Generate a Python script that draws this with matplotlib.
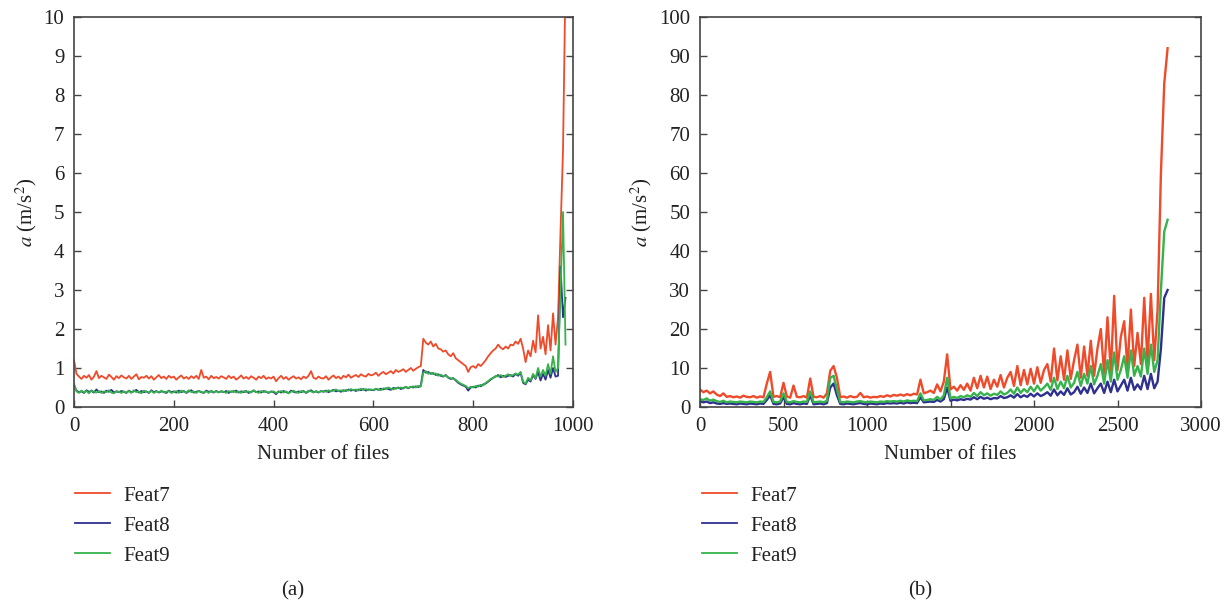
import numpy as np
import matplotlib
matplotlib.use("Agg")
import matplotlib.pyplot as plt

plt.rcParams["font.family"] = ["Liberation Serif", "DejaVu Serif"]
plt.rcParams["mathtext.fontset"] = "stix"
plt.rcParams["font.size"] = 15

# panel (a): one value every 5 files
files_a = np.arange(0, 986, 5)
feat7_a = [
    1.2, 0.85, 0.78, 0.72, 0.8, 0.75, 0.82, 0.7, 0.78, 0.92, 0.74, 0.8, 0.76, 0.72, 0.83, 0.77, 0.7, 0.79, 0.74, 0.81,
    0.76, 0.73, 0.8, 0.72, 0.78, 0.84, 0.71, 0.77, 0.75, 0.8, 0.73, 0.79, 0.7, 0.76, 0.82, 0.74, 0.78, 0.72, 0.8, 0.75,
    0.78, 0.7, 0.76, 0.81, 0.73, 0.77, 0.72, 0.79, 0.74, 0.8, 0.72, 0.95, 0.75, 0.78, 0.71, 0.8, 0.74, 0.77, 0.73, 0.79,
    0.76, 0.72, 0.8, 0.74, 0.78, 0.7, 0.75, 0.81, 0.73, 0.77, 0.72, 0.79, 0.75, 0.7, 0.78, 0.74, 0.8, 0.72, 0.76, 0.73,
    0.78, 0.66, 0.74, 0.8, 0.72, 0.77, 0.7, 0.75, 0.79, 0.73, 0.76, 0.71, 0.78, 0.74, 0.8, 0.92, 0.75, 0.72, 0.78, 0.74,
    0.73, 0.79, 0.7, 0.76, 0.81, 0.74, 0.78, 0.72, 0.8, 0.76, 0.83, 0.75, 0.79, 0.82, 0.77, 0.84, 0.8, 0.78, 0.85, 0.81,
    0.83, 0.88, 0.8, 0.86, 0.9, 0.84, 0.88, 0.92, 0.86, 0.95, 0.9, 0.93, 0.97, 0.9, 0.95, 1.0, 0.93, 0.98, 1.02, 1.05,
    1.75, 1.65, 1.6, 1.68, 1.55, 1.62, 1.5, 1.48, 1.42, 1.45, 1.35, 1.3, 1.38, 1.25, 1.2, 1.15, 1.1, 1.05, 0.9, 1.02,
    1.05, 1.0, 1.1, 1.05, 1.12, 1.2, 1.3, 1.38, 1.45, 1.5, 1.6, 1.52, 1.48, 1.55, 1.5, 1.6, 1.58, 1.68, 1.62, 1.75,
    1.5, 1.15, 1.45, 1.3, 1.7, 1.4, 2.35, 1.5, 1.8, 1.35, 2.1, 1.45, 2.4, 1.6, 2.3, 4.5, 6.6, 11.0,
]
feat8_a = [
    0.55, 0.42, 0.38, 0.4, 0.36, 0.43, 0.39, 0.41, 0.37, 0.45, 0.38, 0.4, 0.36, 0.42, 0.39, 0.44, 0.37, 0.4, 0.38, 0.41,
    0.39, 0.36, 0.42, 0.38, 0.4, 0.44, 0.37, 0.41, 0.38, 0.4, 0.36, 0.43, 0.38, 0.41, 0.37, 0.4, 0.39, 0.36, 0.42, 0.38,
    0.4, 0.37, 0.42, 0.38, 0.41, 0.36, 0.4, 0.43, 0.37, 0.39, 0.41, 0.38, 0.36, 0.42, 0.39, 0.4, 0.37, 0.41, 0.38, 0.4,
    0.38, 0.41, 0.36, 0.4, 0.39, 0.42, 0.37, 0.4, 0.38, 0.41, 0.36, 0.39, 0.42, 0.38, 0.4, 0.37, 0.41, 0.39, 0.36, 0.4,
    0.38, 0.33, 0.4, 0.37, 0.41, 0.38, 0.36, 0.42, 0.39, 0.37, 0.4, 0.38, 0.41, 0.36, 0.4, 0.43, 0.38, 0.4, 0.37, 0.41,
    0.39, 0.42, 0.38, 0.41, 0.44, 0.4, 0.42, 0.39, 0.43, 0.41, 0.45, 0.42, 0.44, 0.41, 0.45, 0.43, 0.46, 0.42, 0.45, 0.44,
    0.43, 0.46, 0.44, 0.47, 0.45, 0.48, 0.46, 0.44, 0.49, 0.47, 0.5, 0.46, 0.49, 0.51, 0.48, 0.52, 0.5, 0.53, 0.51, 0.55,
    0.95, 0.88, 0.9, 0.85, 0.87, 0.82, 0.84, 0.8, 0.78, 0.82, 0.75, 0.72, 0.74, 0.68, 0.62, 0.58, 0.55, 0.52, 0.42, 0.5,
    0.52, 0.5, 0.55, 0.53, 0.58, 0.6, 0.65, 0.7, 0.75, 0.78, 0.82, 0.76, 0.8, 0.77, 0.8, 0.82, 0.78, 0.85, 0.8, 0.88,
    0.62, 0.58, 0.7, 0.65, 0.82, 0.72, 0.9, 0.68, 0.85, 0.7, 0.95, 0.75, 1.0, 0.78, 0.8, 3.6, 2.3, 2.8,
]
feat9_a = [
    0.6, 0.4, 0.36, 0.42, 0.38, 0.41, 0.35, 0.43, 0.39, 0.37, 0.41, 0.36, 0.4, 0.38, 0.43, 0.37, 0.35, 0.41, 0.39, 0.36,
    0.4, 0.37, 0.41, 0.36, 0.43, 0.38, 0.4, 0.35, 0.42, 0.39, 0.37, 0.41, 0.36, 0.4, 0.38, 0.42, 0.37, 0.39, 0.41, 0.36,
    0.38, 0.41, 0.36, 0.42, 0.39, 0.37, 0.43, 0.38, 0.4, 0.36, 0.41, 0.39, 0.37, 0.4, 0.36, 0.42, 0.38, 0.4, 0.37, 0.41,
    0.39, 0.36, 0.41, 0.38, 0.42, 0.37, 0.4, 0.36, 0.41, 0.38, 0.4, 0.37, 0.43, 0.39, 0.36, 0.41, 0.38, 0.4, 0.37, 0.39,
    0.4, 0.36, 0.38, 0.41, 0.37, 0.4, 0.35, 0.39, 0.42, 0.38, 0.36, 0.41, 0.39, 0.37, 0.42, 0.4, 0.37, 0.41, 0.38, 0.4,
    0.41, 0.39, 0.43, 0.4, 0.42, 0.45, 0.41, 0.43, 0.4, 0.44, 0.42, 0.46, 0.43, 0.45, 0.42, 0.47, 0.44, 0.46, 0.43, 0.45,
    0.44, 0.47, 0.45, 0.43, 0.48, 0.46, 0.5, 0.47, 0.45, 0.49, 0.48, 0.5, 0.47, 0.52, 0.49, 0.51, 0.53, 0.5, 0.54, 0.52,
    0.88, 0.92, 0.85, 0.88, 0.84, 0.86, 0.8, 0.83, 0.79, 0.8, 0.76, 0.74, 0.72, 0.7, 0.64, 0.6, 0.57, 0.54, 0.48, 0.52,
    0.5, 0.54, 0.52, 0.57, 0.55, 0.62, 0.66, 0.72, 0.74, 0.8, 0.78, 0.82, 0.77, 0.8, 0.84, 0.79, 0.82, 0.86, 0.83, 0.9,
    0.65, 0.6, 0.75, 0.68, 0.85, 0.74, 1.0, 0.78, 0.95, 0.8, 1.1, 0.85, 1.3, 0.9, 1.0, 3.0, 5.0, 1.6,
]

# panel (b): one value every 20 files
files_b = np.arange(0, 2801, 20)
feat7_b = [
    4.5, 3.8, 4.2, 3.5, 4.0, 3.2, 2.8, 3.5, 2.6, 2.8, 2.5, 2.7, 2.4, 2.9, 2.6, 2.5, 2.8, 2.4, 2.7, 2.5,
    6.0, 9.0, 2.6, 2.8, 2.5, 6.2, 2.7, 2.4, 5.5, 2.6, 2.5, 2.8, 2.4, 7.3, 2.6, 2.5, 2.8, 2.4, 3.5, 9.3,
    10.5, 7.5, 2.5, 2.7, 2.4, 2.8, 2.5, 2.6, 3.6, 2.5, 2.7, 2.4, 2.6, 2.5, 2.8, 2.6, 3.0, 2.7, 3.1, 2.9,
    3.2, 2.9, 3.3, 3.0, 3.4, 3.2, 7.0, 3.5, 3.8, 4.2, 3.6, 5.8, 4.0, 6.5, 13.5, 4.5, 5.2, 4.2, 5.6, 4.4,
    6.0, 4.2, 7.5, 4.8, 8.0, 5.0, 7.8, 4.6, 7.0, 5.2, 8.2, 5.0, 7.5, 9.0, 5.4, 10.5, 5.6, 9.5, 5.8, 9.8,
    6.0, 10.2, 6.2, 9.5, 11.0, 6.5, 15.0, 6.8, 13.0, 7.0, 14.5, 7.2, 12.0, 16.0, 7.5, 15.5, 8.0, 17.0, 8.0, 15.0,
    20.0, 8.5, 23.0, 9.0, 28.5, 9.5, 18.0, 22.0, 10.0, 25.0, 10.5, 19.0, 11.0, 28.0, 11.5, 29.0, 12.0, 25.0, 60.0, 83.0,
    92.0,
]
feat8_b = [
    1.5, 1.2, 1.4, 1.0, 1.2, 0.9, 0.8, 1.0, 0.8, 0.9, 0.8, 0.7, 0.9, 0.8, 0.7, 0.9, 0.8, 0.7, 0.9, 0.8,
    1.8, 3.0, 0.8, 0.7, 0.9, 2.5, 0.8, 0.7, 1.0, 0.8, 0.7, 0.9, 0.8, 3.0, 0.7, 0.8, 0.9, 0.7, 1.0, 5.0,
    6.0, 3.0, 0.8, 0.7, 0.9, 0.8, 0.7, 0.9, 1.0, 0.8, 0.7, 0.9, 0.8, 0.7, 0.9, 0.8, 1.0, 0.9, 1.0, 0.9,
    1.1, 0.9, 1.2, 1.0, 1.1, 1.0, 2.5, 1.2, 1.3, 1.4, 1.3, 1.8, 1.4, 2.0, 5.0, 1.6, 1.9, 1.7, 2.0, 1.8,
    2.1, 1.9, 2.5, 2.0, 2.6, 2.1, 2.4, 2.0, 2.3, 2.2, 2.8, 2.3, 2.5, 3.0, 2.4, 3.3, 2.5, 3.0, 2.6, 3.4,
    2.7, 3.5, 2.8, 3.2, 3.8, 2.9, 4.5, 3.0, 4.0, 3.1, 4.8, 3.2, 3.8, 5.2, 3.4, 5.0, 3.6, 6.0, 3.5, 4.8,
    6.0, 3.6, 6.5, 3.8, 7.0, 4.0, 5.5, 7.0, 4.2, 7.5, 4.4, 5.8, 4.5, 8.0, 4.6, 8.5, 4.8, 6.5, 15.0, 28.0,
    30.0,
]
feat9_b = [
    2.0, 1.8, 2.2, 1.6, 1.9, 1.5, 1.3, 1.6, 1.2, 1.4, 1.3, 1.2, 1.4, 1.3, 1.2, 1.4, 1.3, 1.2, 1.4, 1.3,
    2.5, 4.0, 1.3, 1.2, 1.4, 3.5, 1.3, 1.2, 1.5, 1.3, 1.2, 1.4, 1.3, 4.0, 1.2, 1.3, 1.4, 1.2, 1.6, 7.5,
    8.0, 4.5, 1.3, 1.2, 1.4, 1.3, 1.2, 1.4, 1.5, 1.3, 1.2, 1.4, 1.3, 1.2, 1.4, 1.3, 1.5, 1.4, 1.5, 1.4,
    1.6, 1.4, 1.7, 1.5, 1.6, 1.5, 3.5, 1.7, 1.8, 2.0, 1.8, 2.6, 1.9, 3.0, 7.5, 2.2, 2.6, 2.3, 2.8, 2.5,
    3.0, 2.6, 3.6, 2.8, 3.8, 3.0, 3.5, 2.9, 3.4, 3.1, 4.0, 3.2, 3.6, 4.5, 3.4, 5.0, 3.6, 4.6, 3.8, 5.2,
    4.0, 5.5, 4.2, 5.0, 6.0, 4.4, 7.5, 4.6, 6.5, 4.8, 8.0, 5.0, 6.2, 9.0, 5.4, 8.5, 6.0, 10.5, 5.8, 8.0,
    11.0, 6.0, 12.0, 6.5, 14.0, 7.0, 9.5, 13.0, 7.5, 14.5, 8.0, 10.5, 7.8, 15.0, 8.5, 16.0, 9.0, 12.0, 30.0, 45.0,
    48.0,
]

labels = ["Feat7", "Feat8", "Feat9"]
colors = ["#ef4a2a", "#2e2f8f", "#36b34a"]

fig = plt.figure(figsize=(12.32, 6.07), dpi=100)
ax1 = fig.add_axes([74 / 1232, 200 / 607, 499 / 1232, 390 / 607])
ax2 = fig.add_axes([700 / 1232, 200 / 607, 501 / 1232, 390 / 607])

panels = [
    (ax1, files_a, [feat7_a, feat8_a, feat9_a], 1000, 200, 10, 1, 1.3, 75, "(a)", 293),
    (ax2, files_b, [feat7_b, feat8_b, feat9_b], 3000, 500, 100, 10, 1.7, 702, "(b)", 920),
]

for ax, x, series, xmax, xstep, ymax, ystep, lw, leg_x, tag, tag_x in panels:
    for y, lab, c in zip(series, labels, colors):
        ax.plot(x, y, color=c, lw=lw, label=lab)
    ax.set_xlim(0, xmax)
    ax.set_ylim(0, ymax)
    ax.set_xticks(np.arange(0, xmax + 1, xstep))
    ax.set_yticks(np.arange(0, ymax + 1, ystep))
    ax.tick_params(axis="both", direction="in", length=5, width=1, color="#444444", labelsize=15,
                   labelcolor="#222222")
    ax.tick_params(axis="x", pad=7)
    ax.tick_params(axis="y", right=True, pad=7)
    for sp in ax.spines.values():
        sp.set_color("#444444")
        sp.set_linewidth(1.2)
    ax.set_xlabel("Number of files", fontsize=15, labelpad=6.5, color="#222222")
    ax.set_ylabel(r"$a$ (m/s$^2$)", fontsize=15, labelpad=3.5, color="#222222")

    handles, labs = ax.get_legend_handles_labels()
    leg = fig.legend(handles, labs, loc="upper left",
                     bbox_to_anchor=(leg_x / 1232, 1 - 486 / 607),
                     frameon=False, fontsize=15, handlelength=1.7,
                     handletextpad=0.62, labelspacing=0.5,
                     borderpad=0, borderaxespad=0)
    for t, h in zip(leg.get_texts(), leg.legend_handles):
        t.set_color("#222222")
        h.set_linewidth(1.3)
    fig.text(tag_x / 1232, 1 - 591 / 607, tag, ha="center", va="center", fontsize=15,
             color="#222222")

fig.savefig("out.png", dpi=100)
